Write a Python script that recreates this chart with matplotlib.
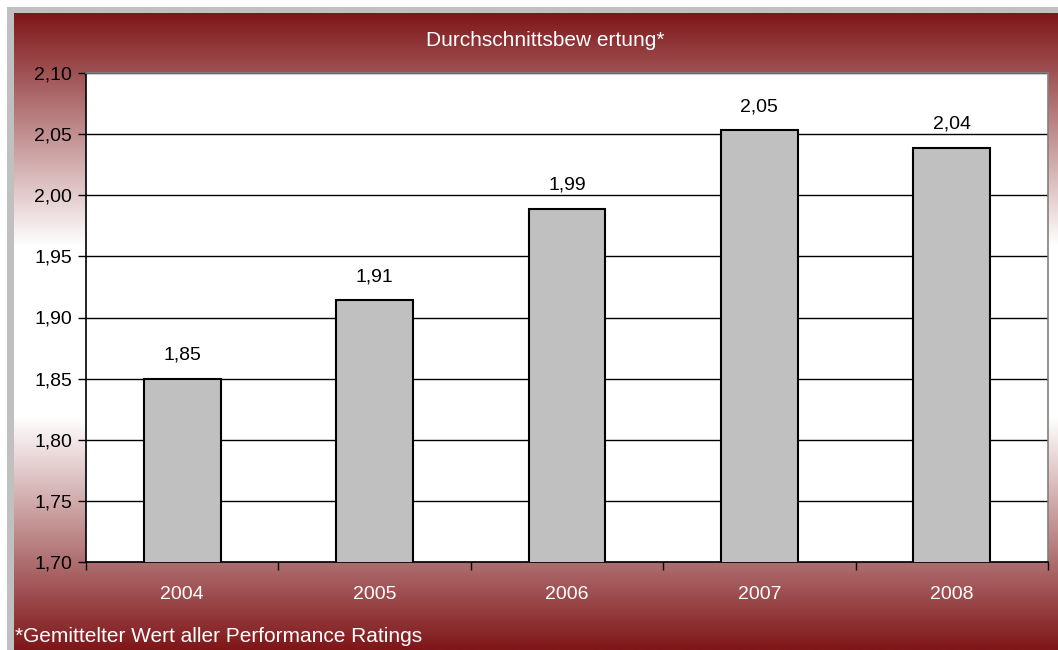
import matplotlib.pyplot as plt
import numpy as np
from matplotlib.patches import Rectangle

# Daten
years = ['2004', '2005', '2006', '2007', '2008']
ratings = [1.85, 1.914, 1.989, 2.053, 2.039]
y_ticks = [1.70, 1.75, 1.80, 1.85, 1.90, 1.95, 2.00, 2.05, 2.10]

title = 'Durchschnittsbew ertung*'
footnote = '*Gemittelter Wert aller Performance Ratings'

plt.rcParams['font.family'] = ['Liberation Sans', 'DejaVu Sans']

W, H = 1058, 650
fig = plt.figure(figsize=(W / 100, H / 100), dpi=100, facecolor='white')

# grauer Rahmen
fig.patches.append(Rectangle((7 / W, 0), 1, 1 - 7 / H, transform=fig.transFigure,
                             facecolor='#c0c0c0', edgecolor='none', zorder=-5))

# Hintergrund mit Verlauf dunkelrot -> weiss -> dunkelrot
bg = fig.add_axes([14 / W, 0, 1 - 14 / W, 1 - 13 / H], zorder=0)
red = np.array([127, 22, 25]) / 255.0
white = np.array([1.0, 1.0, 1.0])
t = np.abs(np.linspace(-1, 1, 600))
f = np.clip((t - 0.27) / 0.73, 0, 1)
grad = white[None, :] * (1 - f[:, None]) + red[None, :] * f[:, None]
bg.imshow(grad[:, None, :], aspect='auto', extent=[0, 1, 0, 1], interpolation='bilinear')
bg.set_axis_off()

ax = fig.add_axes([86 / W, 1 - 562 / H, (1048 - 86) / W, (562 - 73) / H], zorder=1)
ax.set_facecolor('white')

x = np.arange(len(years))
bars = ax.bar(x, ratings, width=0.4, bottom=0, color='#c0c0c0',
              edgecolor='black', linewidth=1.5, zorder=3)

for xi, v in zip(x, ratings):
    ax.annotate(f'{v:.2f}'.replace('.', ','), xy=(xi, v), xytext=(0, 11),
                textcoords='offset points', ha='center', va='bottom',
                fontsize=14, color='black')

ax.set_ylim(1.70, 2.10)
ax.set_xlim(-0.5, len(years) - 0.5)
ax.set_yticks(y_ticks)
ax.set_yticklabels([f'{v:.2f}'.replace('.', ',') for v in y_ticks], fontsize=14)
ax.yaxis.grid(True, color='black', linewidth=1, zorder=1)
ax.set_axisbelow(True)

ax.set_xticks(x)
ax.set_xticklabels(years, fontsize=14, color='white')
ax.set_xticks(np.arange(-0.5, len(years)), minor=True)
ax.tick_params(axis='x', which='major', length=0, pad=17)
ax.tick_params(axis='x', which='minor', length=6, width=1, color='black', direction='out')
ax.tick_params(axis='y', length=6, width=1, color='black', direction='out', pad=4)

ax.spines['left'].set_color('black')
ax.spines['bottom'].set_color('black')
ax.spines['top'].set_color('#808080')
ax.spines['right'].set_color('#808080')
for s in ax.spines.values():
    s.set_linewidth(1.2)

fig.text(545 / W, 1 - 40 / H, title, ha='center', va='center', fontsize=15, color='white')
fig.text(15 / W, 1 - 637 / H, footnote, ha='left', va='center', fontsize=15, color='white')

fig.savefig('out.png', dpi=100, facecolor='white')
